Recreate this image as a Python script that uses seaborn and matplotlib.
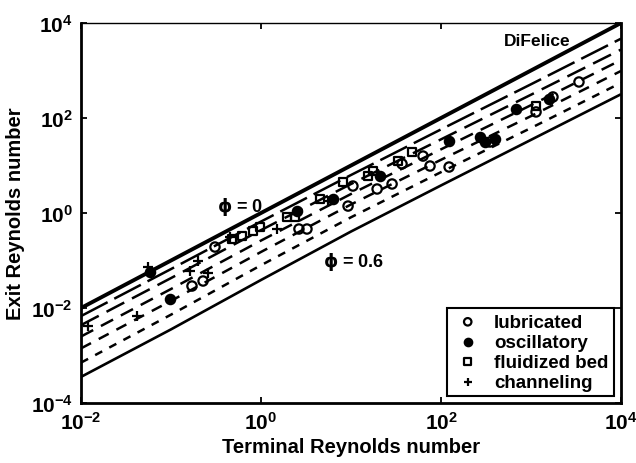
import matplotlib
matplotlib.use("Agg")
import matplotlib.pyplot as plt
import numpy as np
import pandas as pd
import seaborn as sns

# DiFelice correlation: log10 of terminal Reynolds number and the
# matching log10 exit Reynolds number for each solids fraction phi
log_re_t = [-2, -1, 0, 1, 2, 3, 4]
curve_phi_00 = [-2.00, -1.00, 0.00, 1.00, 2.00, 3.00, 4.00]
curve_phi_01 = [-2.17, -1.18, -0.18, 0.80, 1.76, 2.71, 3.67]
curve_phi_02 = [-2.36, -1.37, -0.36, 0.61, 1.55, 2.49, 3.44]
curve_phi_03 = [-2.60, -1.60, -0.58, 0.40, 1.34, 2.27, 3.22]
curve_phi_04 = [-2.85, -1.85, -0.82, 0.18, 1.12, 2.04, 2.99]
curve_phi_05 = [-3.15, -2.14, -1.10, -0.09, 0.86, 1.79, 2.74]
curve_phi_06 = [-3.45, -2.45, -1.41, -0.39, 0.58, 1.54, 2.50]

# Observed regimes (terminal Re, exit Re)
lubricated_re_t = [0.171, 0.227, 0.308, 2.64, 3.24, 9.27, 10.5, 19.5, 28.6,
                   36.9, 63.1, 75.5, 123, 350, 1138, 1754, 3412]
lubricated_re_e = [0.0290, 0.0370, 0.192, 0.460, 0.460, 1.40, 3.70, 3.20, 4.08,
                   10.8, 15.8, 9.75, 9.29, 31.3, 134, 277, 573]

oscillatory_re_t = [0.0585, 0.0975, 2.51, 6.31, 21.0, 123, 271, 308, 398, 681, 1585]
oscillatory_re_e = [0.0573, 0.0155, 1.10, 1.97, 6.01, 32.8, 39.8, 31.3, 36.1, 155, 251]

fluidized_re_t = [0.476, 0.615, 0.815, 0.975, 1.95, 2.39, 4.53, 8.15, 15.5,
                  17.5, 33.3, 47.6, 1138]
fluidized_re_e = [0.284, 0.328, 0.418, 0.507, 0.824, 0.824, 1.97, 4.50, 6.01,
                  7.66, 12.4, 19.2, 179]

channeling_re_t = [0.0120, 0.0555, 0.0419, 0.163, 0.200, 0.258, 1.51, 0.453, 5.55]
channeling_re_e = [0.00418, 0.0729, 0.00679, 0.0601, 0.0975, 0.0546, 0.460, 0.313, 1.79]

sns.set_style("ticks")
plt.rcParams["font.family"] = ["Liberation Sans", "DejaVu Sans"]
plt.rcParams["font.weight"] = "bold"
plt.rcParams["mathtext.default"] = "bf"
plt.rcParams["text.color"] = "black"
plt.rcParams["axes.labelcolor"] = "black"
plt.rcParams["axes.labelweight"] = "bold"
plt.rcParams["xtick.color"] = "black"
plt.rcParams["ytick.color"] = "black"

fig = plt.figure(figsize=(6.36, 4.64), dpi=100)
ax = fig.add_axes([0.1274, 0.1293, 0.849, 0.819])

re_t = np.power(10.0, log_re_t)
curves = [
    (curve_phi_00, 2.8, None),
    (curve_phi_01, 1.8, (12, 3)),
    (curve_phi_02, 1.8, (8, 3.5)),
    (curve_phi_03, 1.8, (5.5, 3.5)),
    (curve_phi_04, 1.8, (4.5, 3.5)),
    (curve_phi_05, 1.8, (3.2, 3.2)),
    (curve_phi_06, 1.9, None),
]
for vals, lw, dash_seq in curves:
    df = pd.DataFrame({"re_t": re_t, "re_e": np.power(10.0, vals)})
    sns.lineplot(data=df, x="re_t", y="re_e", ax=ax, sort=False,
                 legend=False, color="black", linewidth=lw)
    line = ax.lines[-1]
    line.set_solid_capstyle("butt")
    if dash_seq is not None:
        line.set_dashes(dash_seq)
        line.set_dash_capstyle("butt")

sns.scatterplot(x=lubricated_re_t, y=lubricated_re_e, ax=ax, marker="o",
                s=45, facecolors="none", edgecolor="black", linewidth=1.6,
                label="lubricated", zorder=5)
sns.scatterplot(x=oscillatory_re_t, y=oscillatory_re_e, ax=ax, marker="o",
                s=45, color="black", edgecolor="black", linewidth=1.6,
                label="oscillatory", zorder=5)
sns.scatterplot(x=fluidized_re_t, y=fluidized_re_e, ax=ax, marker="s",
                s=34, facecolors="none", edgecolor="black", linewidth=1.6,
                label="fluidized bed", zorder=5)
sns.scatterplot(x=channeling_re_t, y=channeling_re_e, ax=ax, marker="+",
                s=55, color="black", linewidth=1.6,
                label="channeling", zorder=5)

ax.set_xscale("log")
ax.set_yscale("log")
ax.set_xlim(1e-2, 1e4)
ax.set_ylim(1e-4, 1e4)
ax.set_xticks([1e-2, 1e0, 1e2, 1e4])
ax.set_yticks([1e-4, 1e-2, 1e0, 1e2, 1e4])
ax.minorticks_off()
ax.tick_params(axis="both", which="major", direction="in", length=4,
               width=1.3, labelsize=15, top=True, right=True, pad=6,
               colors="black")
for lab in ax.get_xticklabels() + ax.get_yticklabels():
    lab.set_fontweight("bold")
for side in ["left", "bottom", "right", "top"]:
    ax.spines[side].set_visible(True)
    ax.spines[side].set_color("black")
    ax.spines[side].set_linewidth(2.0)
ax.spines["top"].set_linewidth(1.0)

ax.set_xlabel("Terminal Reynolds number", fontsize=14.5, fontweight="bold",
              labelpad=3)
ax.set_ylabel("Exit Reynolds number", fontsize=14.5, fontweight="bold",
              labelpad=4)

ax.text(10 ** 3.07, 10 ** 3.64, "DiFelice", fontsize=12.5, fontweight="bold",
        ha="center", va="center")
ax.text(10 ** -0.23, 10 ** 0.15, r"$\phi$ = 0", fontsize=13, fontweight="bold",
        ha="center", va="center")
ax.text(10 ** 1.03, 10 ** -1.01, r"$\phi$ = 0.6", fontsize=13, fontweight="bold",
        ha="center", va="center")

leg = ax.legend(loc="lower right", bbox_to_anchor=(0.987, 0.018),
                borderaxespad=0, fontsize=13.5, frameon=True, fancybox=False,
                edgecolor="black", handletextpad=0.6, labelspacing=0.15,
                borderpad=0.3, handlelength=1.6, markerscale=0.8,
                prop={"weight": "bold", "size": 13.5})
leg.get_frame().set_linewidth(1.5)
leg.get_frame().set_alpha(1)

fig.savefig("out.png", dpi=100)
